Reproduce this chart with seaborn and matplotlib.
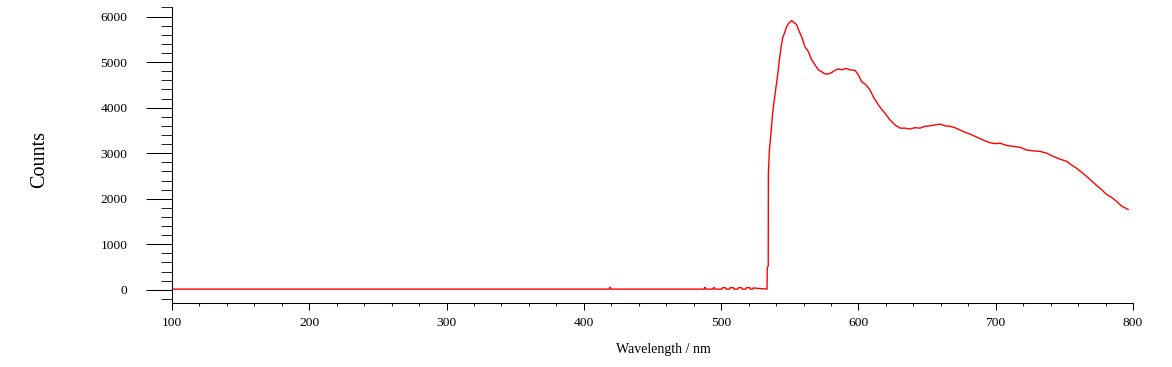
import matplotlib
matplotlib.use("Agg")
import matplotlib.pyplot as plt
from matplotlib.ticker import MultipleLocator
import seaborn as sns
import pandas as pd

# ---- data ----
wavelength_nm = [
    100, 418.6, 418.9, 419.4, 419.7, 487.6, 487.9, 488.4, 488.7, 494.1, 494.5, 495.1, 495.5,
    500.6, 501.0, 503.2, 503.6, 506.0, 506.4, 509.0, 509.4, 512.1, 512.5, 515.0, 515.4,
    518.0, 518.4, 521.0, 521.4, 523.0, 523.3, 533.4,
    533.6, 534.3, 534.4, 535.1, 536.3, 537.5, 538.7, 540.0, 541.2, 542.4, 543.6, 544.8,
    546.5, 547.7, 549.6, 551.4, 553.0, 555.0, 556.9, 558.6, 561.0, 563.5, 565.9, 568.4,
    570.8, 573.2, 575.6, 578.0, 580.5, 582.9, 585.3, 587.8, 590.9, 593.8, 597.5, 599.9,
    602.3, 605.5, 608.4, 610.8, 614.5, 617.0, 619.3, 623.0, 626.6, 630.3, 633.9, 637.5,
    641.2, 644.8, 648.5, 652.1, 655.7, 659.4, 663.0, 666.7, 670.3, 673.9, 677.6, 681.2,
    684.9, 688.5, 692.2, 695.8, 699.5, 703.1, 708.0, 712.8, 717.7, 722.5, 727.4, 732.2,
    737.1, 741.9, 746.8, 751.7, 755.3, 758.9, 762.6, 766.2, 769.9, 773.5, 777.1, 780.8,
    784.4, 788.1, 791.7, 796.6,
]
counts = [
    15, 15, 50, 50, 15, 15, 50, 50, 15, 15, 45, 45, 15,
    15, 45, 45, 15, 15, 45, 45, 15, 15, 45, 45, 15,
    15, 45, 45, 15, 15, 40, 15,
    490, 520, 2560, 3040, 3440, 3880, 4170, 4460, 4720, 5050, 5310, 5530,
    5670, 5780, 5870, 5910, 5870, 5820, 5670, 5560, 5340, 5230, 5050, 4940,
    4830, 4790, 4740, 4740, 4770, 4820, 4850, 4830, 4860, 4830, 4820, 4720,
    4570, 4500, 4390, 4240, 4060, 3960, 3880, 3730, 3620, 3550, 3550, 3530,
    3560, 3550, 3590, 3600, 3620, 3640, 3600, 3590, 3560, 3510, 3460, 3420,
    3370, 3320, 3270, 3230, 3210, 3220, 3170, 3150, 3130, 3070, 3050, 3040,
    3000, 2930, 2870, 2820, 2740, 2670, 2580, 2490, 2390, 2290, 2200, 2090,
    2030, 1940, 1840, 1760,
]
x_ticks = [100, 200, 300, 400, 500, 600, 700, 800]
y_ticks = [0, 1000, 2000, 3000, 4000, 5000, 6000]

df = pd.DataFrame({"Wavelength": wavelength_nm, "Counts": counts})

sns.set_style("ticks")
plt.rcParams["font.family"] = ["Liberation Serif", "DejaVu Serif"]

fig = plt.figure(figsize=(11.72, 3.67), dpi=100)
ax = fig.add_axes([172 / 1172, 64 / 367, 961 / 1172, 296 / 367])

sns.lineplot(data=df, x="Wavelength", y="Counts", ax=ax, color="#ff0000",
             linewidth=1.0, estimator=None, sort=False)

ax.set_xlim(100, 800)
ax.set_ylim(-290, 6210)
ax.set_xticks(x_ticks)
ax.set_yticks(y_ticks)
ax.xaxis.set_minor_locator(MultipleLocator(20))
ax.yaxis.set_minor_locator(MultipleLocator(200))

for s in ["top", "right"]:
    ax.spines[s].set_visible(False)
for s in ["left", "bottom"]:
    ax.spines[s].set_linewidth(0.75)
    ax.spines[s].set_color("black")

ax.tick_params(axis="y", which="major", length=19, width=0.75, pad=13,
               labelsize=9.7, colors="black", direction="out")
ax.tick_params(axis="y", which="minor", length=8, width=0.75, direction="out")
ax.tick_params(axis="x", which="major", length=5.3, width=0.75, pad=5,
               labelsize=9.7, colors="black", direction="out")
ax.tick_params(axis="x", which="minor", length=2.4, width=0.75, direction="out")

ax.set_xlabel("Wavelength / nm", fontsize=10, color="black")
ax.xaxis.set_label_coords((663 - 172) / 961, (303 - 349) / 296)
ax.xaxis.label.set_va("center")
ax.set_ylabel("Counts", fontsize=14.5, color="black")
ax.yaxis.set_label_coords((40 - 172) / 961, (303 - 159) / 296)
ax.yaxis.label.set_va("center")
ax.yaxis.label.set_ha("center")

ax.grid(False)
fig.savefig("out.png", dpi=100)
